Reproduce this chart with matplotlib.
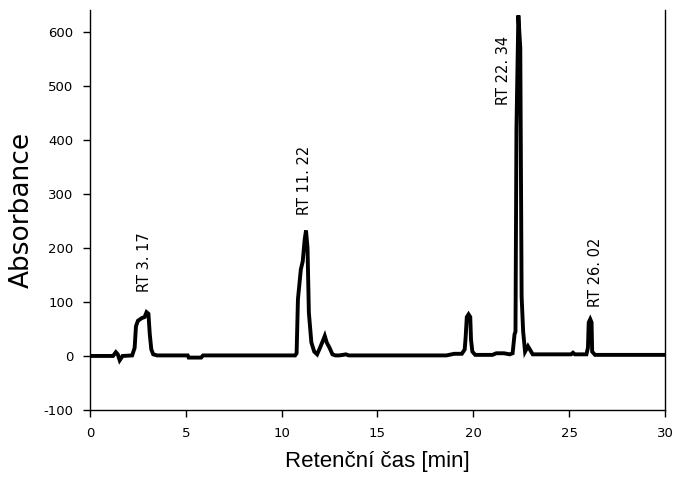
import matplotlib.pyplot as plt

plt.rcParams['axes.unicode_minus'] = False

# chromatogram trace
time = [0, 1.2, 1.35, 1.45, 1.55, 1.7, 2.2, 2.33, 2.4, 2.5, 2.7, 2.85, 2.95,
        3.05, 3.12, 3.2, 3.3, 3.5, 5.1, 5.15, 5.8, 5.9, 10.7, 10.78, 10.85,
        11.0, 11.1, 11.2, 11.27, 11.35, 11.42, 11.55, 11.7, 11.85, 12.0, 12.15,
        12.25, 12.35, 12.5, 12.65, 12.8, 13.0, 13.2, 13.35, 13.5, 18.6, 19.0,
        19.4, 19.55, 19.6, 19.66, 19.75, 19.84, 19.88, 19.95, 20.1, 21.0, 21.2,
        21.6, 21.9, 22.05, 22.15, 22.2, 22.25, 22.35, 22.45, 22.52, 22.6, 22.7,
        22.85, 22.95, 23.1, 25.1, 25.2, 25.3, 25.9, 25.98, 26.02, 26.1, 26.17,
        26.2, 26.35, 30]
absorbance = [0, 0, 7, 3, -8, 0, 1, 15, 55, 65, 70, 72, 81,
              78, 40, 12, 3, 1, 1, -3, -3, 1, 1, 5, 105,
              160, 175, 215, 232, 200, 80, 25, 8, 3, 15, 28,
              37, 25, 15, 3, 1, 1, 2, 3, 1, 1, 4,
              4, 12, 35, 72, 77, 72, 30, 8, 2, 2, 5,
              5, 3, 5, 40, 45, 420, 630, 570, 110, 45, 8,
              18, 12, 3, 3, 6, 3, 3, 15, 62, 68, 62,
              8, 2, 2]

peak_labels = ['RT 3. 17', 'RT 11. 22', 'RT 22. 34', 'RT 26. 02']
label_time = [2.87, 11.2, 21.55, 26.35]
label_base = [118, 261, 464, 90]

fig = plt.figure(figsize=(6.73, 4.88), dpi=100)
ax = fig.add_axes([0.1337, 0.1598, 0.8544, 0.8197])

ax.plot(time, absorbance, color='black', lw=2.8, solid_joinstyle='miter')

for txt, t, y in zip(peak_labels, label_time, label_base):
    ax.text(t, y, txt, rotation=90, ha='center', va='bottom',
            fontsize=10.5, family='DejaVu Sans')

ax.set_xlim(0, 30)
ax.set_ylim(-100, 640)
ax.set_xticks([0, 5, 10, 15, 20, 25, 30])
ax.set_yticks([-100, 0, 100, 200, 300, 400, 500, 600])
ax.spines['top'].set_visible(False)
for s in ['left', 'right', 'bottom']:
    ax.spines[s].set_linewidth(1.0)
ax.tick_params(direction='out', length=5, width=1, pad=7, labelsize=9.5)

ax.set_xlabel('Retenční čas [min]', fontsize=16, family='Liberation Sans',
              labelpad=8)
ax.set_ylabel('Absorbance', fontsize=19, family='DejaVu Sans', labelpad=6)

fig.savefig('out.png', dpi=100)
